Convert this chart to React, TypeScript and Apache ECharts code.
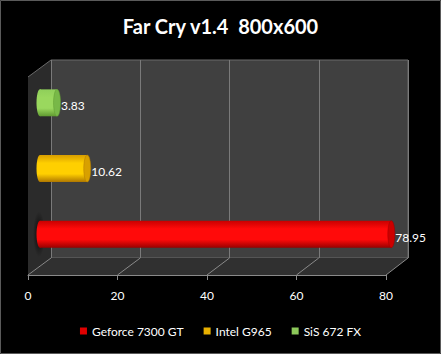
import React, { useEffect, useRef } from "react";
import * as echarts from "echarts";

const categories = ["Geforce 7300 GT", "Intel G965", "SiS 672 FX"];
const values = [78.95, 10.62, 3.83];
const xTicks = [0, 20, 40, 60, 80];
const palettes = [
  { top: "#c80000", mid: "#ff0a0a", bot: "#9a0000", cap: "#cc0000", legend: "#e00000" },
  { top: "#d89e00", mid: "#ffcf00", bot: "#b07800", cap: "#d8a000", legend: "#e8b000" },
  { top: "#8fcf5a", mid: "#9ad85e", bot: "#5f9a30", cap: "#78b848", legend: "#8cc85a" },
];

const FONT = "Lato, 'Open Sans', sans-serif";

export default function App() {
  const ref = useRef<HTMLDivElement>(null);
  useEffect(() => {
    document.body.style.margin = "0";
    const chart = echarts.init(ref.current!, undefined, { renderer: "svg" });

    const series = categories.map((name, i) => {
      const p = palettes[i];
      return {
        name,
        type: "custom",
        xAxisIndex: 0,
        yAxisIndex: 0,
        z: 10,
        itemStyle: { color: p.legend },
        data: [[values[i], i]],
        encode: { x: 0, y: 1 },
        renderItem: (params: any, api: any) => {
          const v = api.value(0);
          const c = api.value(1);
          const s = api.coord([0, c]);
          const e = api.coord([v, c]);
          const band = api.size([0, 1])[1];
          const h = band * 0.41;
          const rx = 3.5;
          const grad = new echarts.graphic.LinearGradient(0, 0, 0, 1, [
            { offset: 0, color: p.top },
            { offset: 0.3, color: p.mid },
            { offset: 0.7, color: p.mid },
            { offset: 1, color: p.bot },
          ]);
          const children: any[] = [];
          if (i === 0) {
            children.push({
              type: "ellipse",
              shape: { cx: s[0] - 1, cy: s[1], rx: 6, ry: h * 0.85 },
              style: {
                fill: new echarts.graphic.RadialGradient(0.5, 0.5, 0.5, [
                  { offset: 0, color: "rgba(0,0,0,0.8)" },
                  { offset: 1, color: "rgba(0,0,0,0)" },
                ]),
              },
            });
          }
          children.push(
            {
              type: "ellipse",
              shape: { cx: s[0], cy: s[1], rx, ry: h / 2 },
              style: { fill: grad },
            },
            {
              type: "rect",
              shape: { x: s[0], y: s[1] - h / 2, width: e[0] - s[0], height: h },
              style: { fill: grad },
            },
            {
              type: "ellipse",
              shape: { cx: e[0], cy: e[1], rx, ry: h / 2 },
              style: { fill: p.cap, stroke: p.bot, lineWidth: 0.5 },
            },
            {
              type: "text",
              style: {
                text: String(v.toFixed(2)),
                x: e[0] + rx + 0.5,
                y: e[1] + 3,
                verticalAlign: "middle",
                align: "left",
                fill: "#ffffff",
                font: `12px ${FONT}`,
              },
            }
          );
          return { type: "group", children };
        },
      };
    });

    // 3D frame decoration
    const frontY = 275;
    const backY = 258;
    const frontL = 28, frontR = 386, backL = 51, backR = 408;
    const graphics: any[] = [
      {
        type: "polygon",
        z: 1,
        shape: { points: [[frontL, 77], [backL, 60], [backL, backY], [frontL, frontY]] },
        style: { fill: "#2b2b2b" },
      },
      {
        type: "line",
        z: 2,
        shape: { x1: frontL, y1: 77, x2: backL, y2: 60 },
        style: { stroke: "#6a6a6a", lineWidth: 1 },
      },
      {
        type: "polygon",
        z: 1,
        shape: { points: [[frontL, frontY], [backL, backY], [backR, backY], [frontR, frontY]] },
        style: { fill: "#303030" },
      },
    ];
    xTicks.forEach((t, k) => {
      const fx = frontL + ((frontR - frontL) * k) / (xTicks.length - 1);
      const bx = backL + ((backR - backL) * k) / (xTicks.length - 1);
      graphics.push({
        type: "line",
        z: 2,
        shape: { x1: fx, y1: frontY, x2: bx, y2: backY },
        style: { stroke: "#8a8a8a", lineWidth: 1 },
      });
    });
    graphics.push({
      type: "rect",
      z: 0,
      shape: { x: 0.5, y: 0.5, width: 440, height: 353 },
      style: { fill: "none", stroke: "#5a5a5a", lineWidth: 1 },
    });

    chart.setOption({
      animation: false,
      backgroundColor: "#000000",
      title: {
        text: "Far Cry v1.4  800x600",
        left: "center",
        top: 11,
        textStyle: { color: "#ffffff", fontSize: 20, fontWeight: "bold", fontFamily: FONT },
      },
      legend: {
        bottom: 12,
        left: "center",
        itemWidth: 7,
        itemHeight: 7,
        itemGap: 20,
        icon: "rect",
        textStyle: { color: "#ffffff", fontSize: 12, fontFamily: FONT },
        data: categories,
      },
      grid: [
        { left: 40, right: 45, top: 70, bottom: 87, show: false },
        {
          left: backL, right: 441 - backR, top: 60, bottom: 354 - backY,
          show: true, backgroundColor: "#404040", borderColor: "#6a6a6a", borderWidth: 1,
        },
        { left: frontL, right: 441 - frontR, top: 265, bottom: 354 - frontY, show: false },
      ],
      xAxis: [
        { gridIndex: 0, type: "value", min: 0, max: 80, interval: 20, show: false },
        {
          gridIndex: 1, type: "value", min: 0, max: 80, interval: 20,
          axisLine: { show: false }, axisTick: { show: false }, axisLabel: { show: false },
          splitLine: { show: true, lineStyle: { color: "#7a7a7a", width: 1 } },
        },
        {
          gridIndex: 2, type: "value", min: 0, max: 80, interval: 20,
          axisLine: { show: true, lineStyle: { color: "#8a8a8a", width: 1 } },
          axisTick: { show: true, length: 5, lineStyle: { color: "#8a8a8a" } },
          axisLabel: { color: "#ffffff", fontSize: 12, fontFamily: FONT, margin: 14 },
          splitLine: { show: false },
        },
      ],
      yAxis: [
        { gridIndex: 0, type: "category", data: categories, show: false },
        { gridIndex: 1, type: "category", data: categories, show: false },
        { gridIndex: 2, type: "category", data: categories, show: false },
      ],
      graphic: graphics,
      series,
    });
    return () => chart.dispose();
  }, []);
  return <div ref={ref} style={{ position: "absolute", left: 0, top: 0, width: 441, height: 354 }} />;
}
